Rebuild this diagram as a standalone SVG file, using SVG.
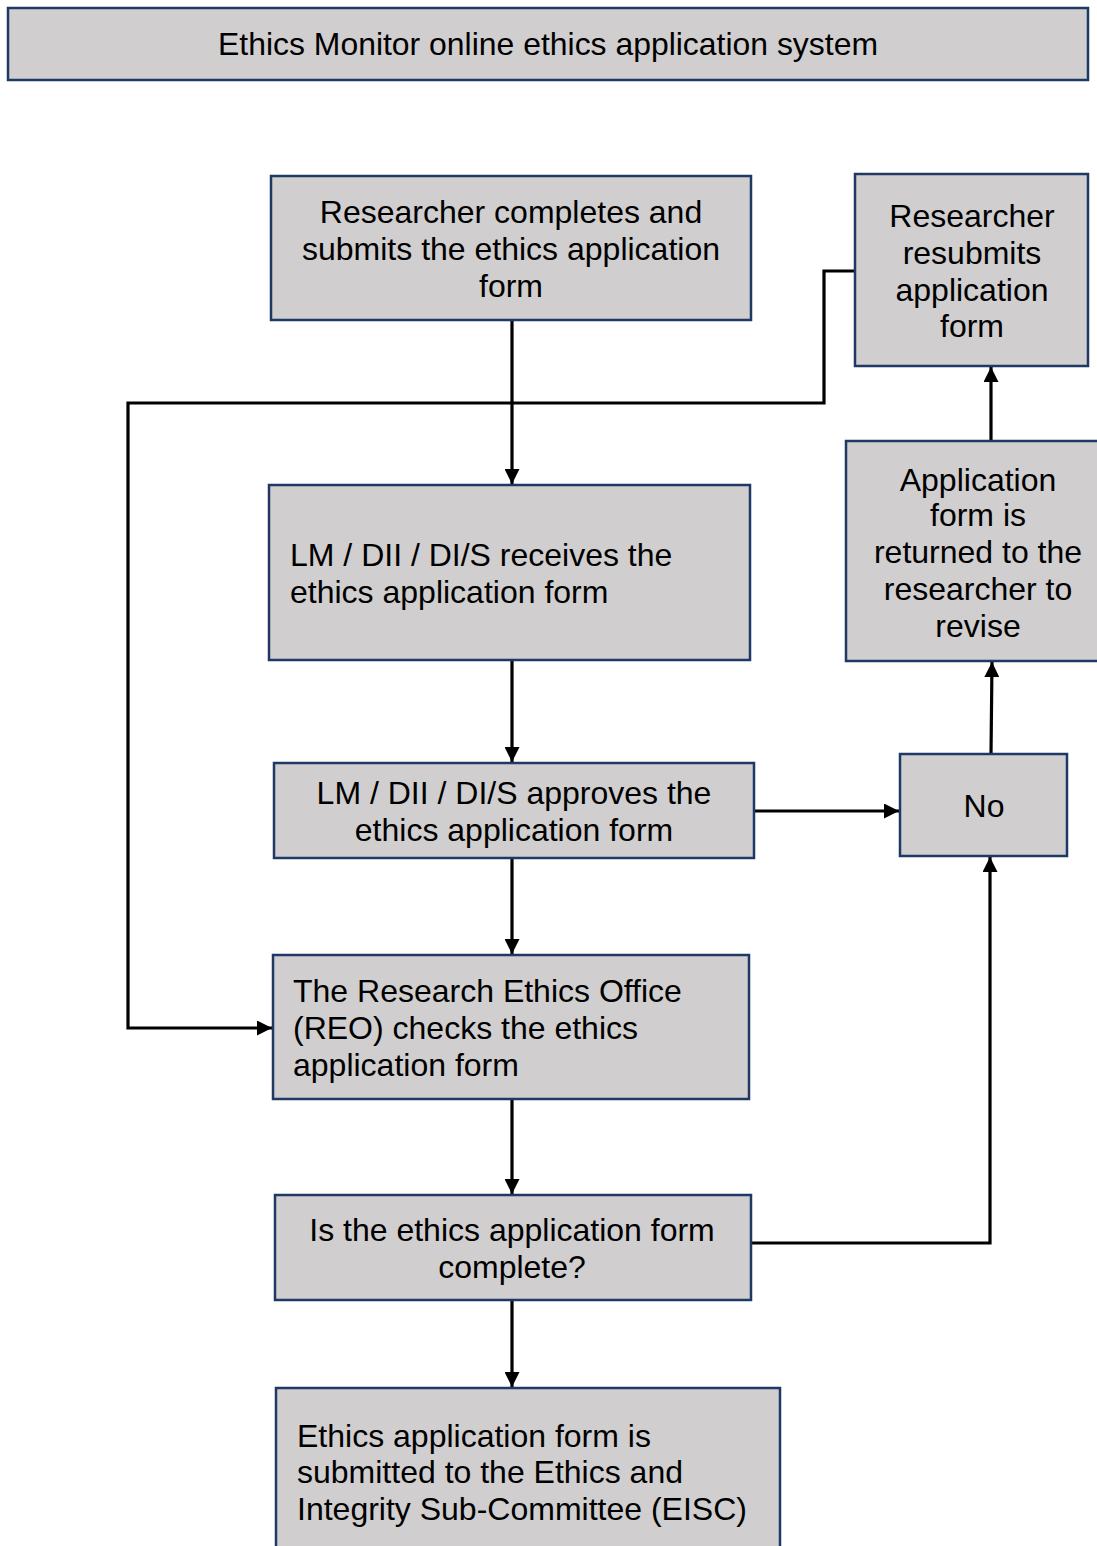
<svg xmlns="http://www.w3.org/2000/svg" width="1097" height="1546" viewBox="0 0 1097 1546">
<defs>
<style>
.box{fill:#d0cece;stroke:#1f3864;stroke-width:2.5}
.t{font-family:"Liberation Sans",Arial,sans-serif;font-size:32px;fill:#000}
.c{text-anchor:middle}
.ln{fill:none;stroke:#000;stroke-width:3.2}
</style>
<marker id="ah" viewBox="0 0 10 10" refX="10" refY="5" markerWidth="15" markerHeight="15" markerUnits="userSpaceOnUse" orient="auto">
<path d="M0,0 L10,5 L0,10 z" fill="#000"/>
</marker>
</defs>
<rect width="1097" height="1546" fill="#fff"/>
<g id="title">
<rect class="box" x="8" y="8" width="1080" height="72"/>
<text class="t c" x="548" y="55" font-size="33" textLength="660" lengthAdjust="spacingAndGlyphs">Ethics Monitor online ethics application system</text>
</g>
<g id="connectors">
<line class="ln" x1="512" y1="320" x2="512" y2="484" marker-end="url(#ah)"/>
<line class="ln" x1="512" y1="660" x2="512" y2="762" marker-end="url(#ah)"/>
<line class="ln" x1="512" y1="858" x2="512" y2="954" marker-end="url(#ah)"/>
<line class="ln" x1="512" y1="1099" x2="512" y2="1194" marker-end="url(#ah)"/>
<line class="ln" x1="512" y1="1300" x2="512" y2="1387" marker-end="url(#ah)"/>
<line class="ln" x1="754" y1="811" x2="899" y2="811" marker-end="url(#ah)"/>
<polyline class="ln" points="751,1243 990,1243 990,857" marker-end="url(#ah)"/>
<line class="ln" x1="991" y1="754" x2="992" y2="662" marker-end="url(#ah)"/>
<line class="ln" x1="991" y1="441" x2="991" y2="367" marker-end="url(#ah)"/>
<polyline class="ln" points="855,271 824,271 824,403 128,403 128,1028 272,1028" marker-end="url(#ah)"/>
</g>
<g id="n1">
<rect class="box" x="271" y="176" width="480" height="144"/>
<text class="t c" x="511" y="223">Researcher completes and</text>
<text class="t c" x="511" y="260">submits the ethics application</text>
<text class="t c" x="511" y="297">form</text>
</g>
<g id="n2">
<rect class="box" x="855" y="174" width="233" height="192"/>
<text class="t c" x="972" y="227">Researcher</text>
<text class="t c" x="972" y="264">resubmits</text>
<text class="t c" x="972" y="301">application</text>
<text class="t c" x="972" y="337">form</text>
</g>
<g id="n3">
<rect class="box" x="846" y="441" width="254" height="220"/>
<text class="t c" x="978" y="491">Application</text>
<text class="t c" x="978" y="526">form is</text>
<text class="t c" x="978" y="563">returned to the</text>
<text class="t c" x="978" y="600">researcher to</text>
<text class="t c" x="978" y="637">revise</text>
</g>
<g id="n4">
<rect class="box" x="269" y="485" width="481" height="175"/>
<text class="t" x="290" y="566">LM / DII / DI/S receives the</text>
<text class="t" x="290" y="603">ethics application form</text>
</g>
<g id="n5">
<rect class="box" x="274" y="763" width="480" height="95"/>
<text class="t c" x="514" y="804">LM / DII / DI/S approves the</text>
<text class="t c" x="514" y="841">ethics application form</text>
</g>
<g id="n6">
<rect class="box" x="900" y="754" width="167" height="102"/>
<text class="t c" x="984" y="817">No</text>
</g>
<g id="n7">
<rect class="box" x="273" y="955" width="476" height="144"/>
<text class="t" x="293" y="1002">The Research Ethics Office</text>
<text class="t" x="293" y="1039">(REO) checks the ethics</text>
<text class="t" x="293" y="1076">application form</text>
</g>
<g id="n8">
<rect class="box" x="275" y="1195" width="476" height="105"/>
<text class="t c" x="512" y="1241">Is the ethics application form</text>
<text class="t c" x="512" y="1278">complete?</text>
</g>
<g id="n9">
<rect class="box" x="276" y="1388" width="504" height="170"/>
<text class="t" x="297" y="1447">Ethics application form is</text>
<text class="t" x="297" y="1483">submitted to the Ethics and</text>
<text class="t" x="297" y="1520">Integrity Sub-Committee (EISC)</text>
</g>
</svg>
